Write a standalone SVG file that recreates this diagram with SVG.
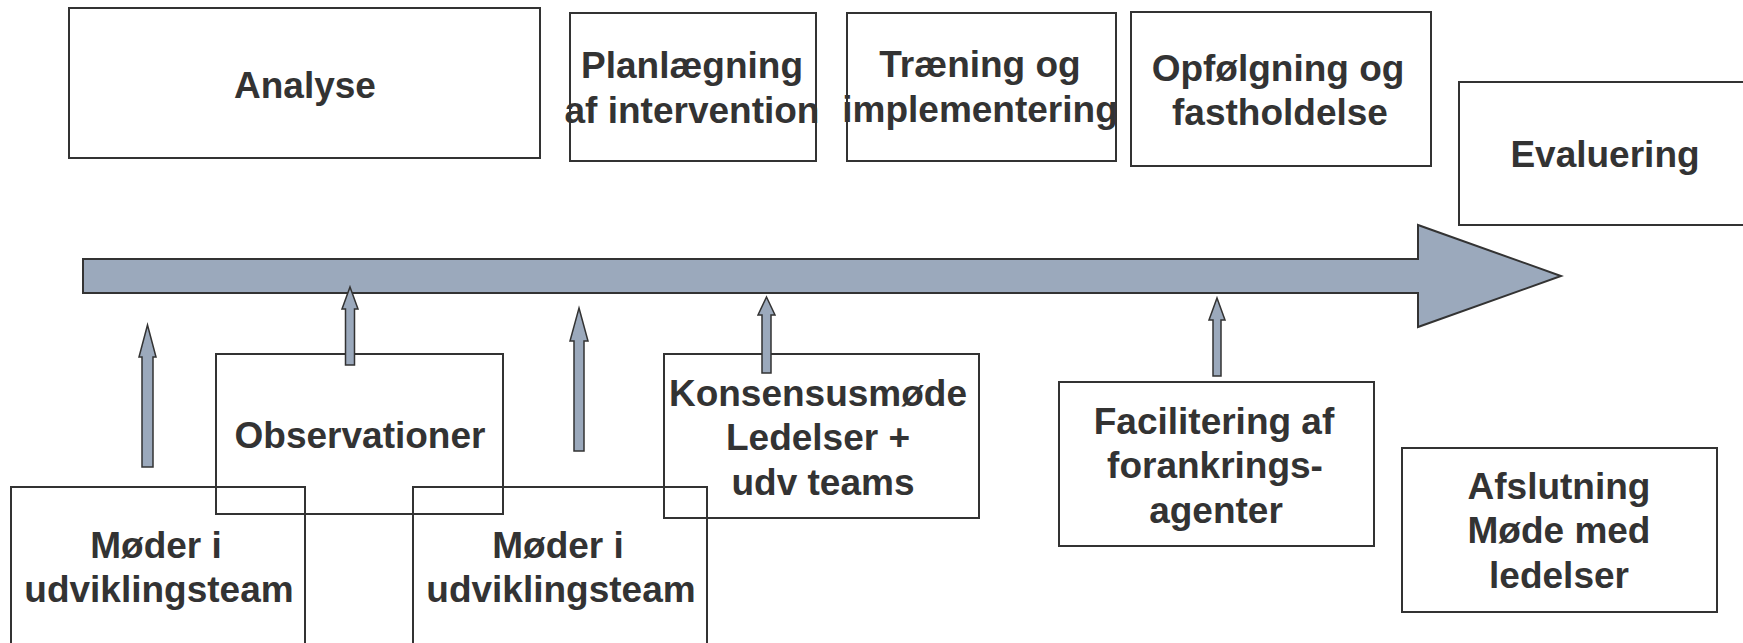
<svg xmlns="http://www.w3.org/2000/svg" width="1743" height="643" viewBox="0 0 1743 643">
<style>
.box{fill:none;stroke:#333;stroke-width:2}
.t{font-family:"Liberation Sans",Arial,sans-serif;font-weight:bold;font-size:37px;fill:#333;text-anchor:middle}
.arr{fill:#9BA9BC;stroke:#333;stroke-width:2;stroke-linejoin:miter}
.sarr{fill:#9BA9BC;stroke:#333;stroke-width:1.5}
</style>
<rect width="1743" height="643" fill="#fff"/>
<g id="timeline">
<polygon class="arr" points="83,259 1418,259 1418,225 1561,276 1418,327 1418,293 83,293"/>
</g>
<g id="analyse"><rect class="box" x="69" y="8" width="471" height="150"/><text class="t" x="305" y="98">Analyse</text></g>
<g id="planlaegning"><rect class="box" x="570" y="13" width="246" height="148"/><text class="t" x="692" y="78">Planlægning</text><text class="t" x="692" y="123">af intervention</text></g>
<g id="traening"><rect class="box" x="847" y="13" width="269" height="148"/><text class="t" x="980" y="77">Træning og</text><text class="t" x="980" y="122">implementering</text></g>
<g id="opfoelgning"><rect class="box" x="1131" y="12" width="300" height="154"/><text class="t" x="1278" y="81">Opfølgning og</text><text class="t" x="1280" y="125">fastholdelse</text></g>
<g id="evaluering"><rect class="box" x="1459" y="82" width="300" height="143"/><text class="t" x="1605" y="167">Evaluering</text></g>
<g id="observationer"><rect class="box" x="216" y="354" width="287" height="160"/><text class="t" x="360" y="448">Observationer</text></g>
<g id="moeder1"><rect class="box" x="11" y="487" width="294" height="170"/><text class="t" x="156" y="558">Møder i</text><text class="t" x="159" y="602">udviklingsteam</text></g>
<g id="moeder2"><rect class="box" x="413" y="487" width="294" height="170"/><text class="t" x="558" y="558">Møder i</text><text class="t" x="561" y="602">udviklingsteam</text></g>
<g id="konsensus"><rect class="box" x="664" y="354" width="315" height="164"/><text class="t" x="818" y="406">Konsensusmøde</text><text class="t" x="818" y="450">Ledelser +</text><text class="t" x="823" y="495">udv teams</text></g>
<g id="facilitering"><rect class="box" x="1059" y="382" width="315" height="164"/><text class="t" x="1214" y="434">Facilitering af</text><text class="t" x="1215" y="478">forankrings-</text><text class="t" x="1216" y="523">agenter</text></g>
<g id="afslutning"><rect class="box" x="1402" y="448" width="315" height="164"/><text class="t" x="1559" y="499">Afslutning</text><text class="t" x="1559" y="543">Møde med</text><text class="t" x="1559" y="588">ledelser</text></g>
<g id="connectors">
<polygon class="sarr" points="147.5,325 156,357 153,357 153,467 142,467 142,357 139,357"/>
<polygon class="sarr" points="350,287 358,309 354.5,309 354.5,365 345.5,365 345.5,309 342,309"/>
<polygon class="sarr" points="579,308 588,341 584,341 584,451 574,451 574,341 570,341"/>
<polygon class="sarr" points="766.5,297 775,315 771,315 771,373 762,373 762,315 758,315"/>
<polygon class="sarr" points="1217,298 1225,320 1221,320 1221,376 1213,376 1213,320 1209,320"/>
</g>
</svg>
